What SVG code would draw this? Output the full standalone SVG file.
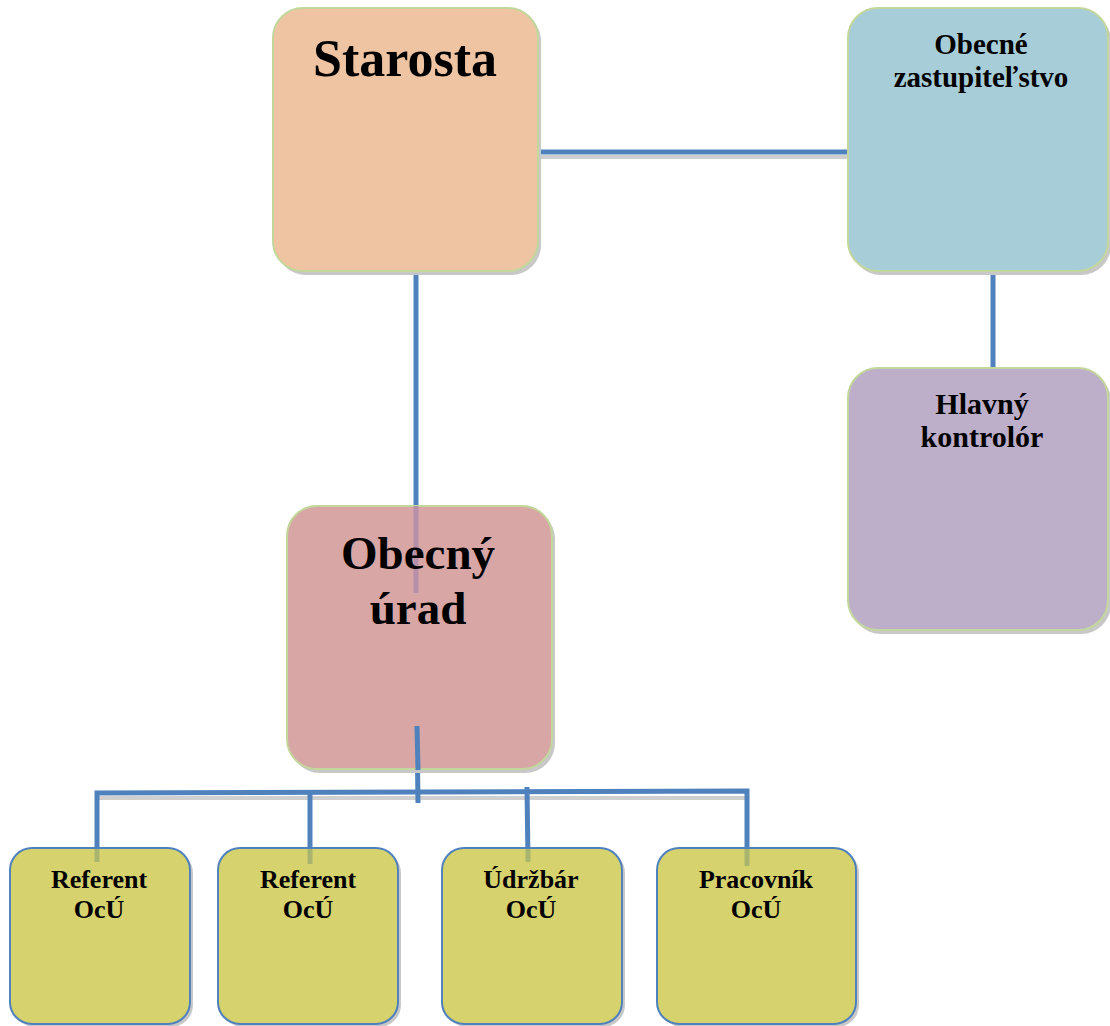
<svg xmlns="http://www.w3.org/2000/svg" width="1110" height="1026" viewBox="0 0 1110 1026">
<style>
.box{stroke-width:2}
.big{stroke:#C3D69B}
.small{stroke:#4F81BD;fill:#D6D36F}
.shadow{fill:#C8C8C8}
.t{font-family:"Liberation Serif","Times New Roman",serif;font-weight:bold;fill:#000;text-anchor:middle}
.con{stroke:#4F81BD;stroke-width:5;fill:none}
.cs{stroke:#CFCFCF;stroke-width:4;fill:none}
</style>
<rect width="1110" height="1026" fill="#fff"/>
<g id="connectors-shadow">
<line class="cs" x1="538" y1="157" x2="848" y2="157"/>
<line class="cs" x1="97" y1="798" x2="747" y2="798"/>
</g>
<g id="connectors">
<line class="con" x1="538" y1="152" x2="848" y2="152"/>
<line class="con" x1="993" y1="270" x2="993" y2="369"/>
<line class="con" x1="416" y1="270" x2="416" y2="506"/>
<line class="con" x1="417" y1="726" x2="418" y2="803"/>
<polyline class="con" points="97,862 97,793 747,791 747,866"/>
<line class="con" x1="310" y1="793" x2="310" y2="864"/>
<line class="con" x1="527" y1="787" x2="528" y2="862"/>
</g>
<g id="starosta">
<rect class="shadow" x="276" y="11" width="265" height="264" rx="30"/>
<rect class="box big" x="273" y="8" width="265" height="263" rx="30" fill="#EFC4A2"/>
<text class="t" x="405" y="76" font-size="52">Starosta</text>
</g>
<g id="zastupitelstvo">
<rect class="shadow" x="851" y="11" width="260" height="264" rx="30"/>
<rect class="box big" x="848" y="8" width="260" height="263" rx="30" fill="#A7CDD8"/>
<text class="t" x="981" y="54" font-size="29">Obecné</text>
<text class="t" x="981" y="87" font-size="29">zastupiteľstvo</text>
</g>
<g id="kontrolor">
<rect class="shadow" x="851" y="371" width="260" height="263" rx="30"/>
<rect class="box big" x="848" y="368" width="260" height="262" rx="30" fill="#BDAFC9"/>
<text class="t" x="982" y="414" font-size="30">Hlavný</text>
<text class="t" x="982" y="447" font-size="30">kontrolór</text>
</g>
<g id="obecny-urad">
<rect class="shadow" x="290" y="509" width="265" height="264" rx="30"/>
<rect class="box big" x="287" y="506" width="265" height="263" rx="30" fill="#D7A6A5"/>
<line x1="416" y1="506" x2="416" y2="593" stroke="#B690A8" stroke-width="5"/>
<line class="con" x1="417" y1="726" x2="418" y2="770"/>
<text class="t" x="418" y="569" font-size="47">Obecný</text>
<text class="t" x="418" y="624" font-size="47">úrad</text>
</g>
<g id="referent1">
<rect class="shadow" x="13" y="851" width="180" height="176" rx="22"/>
<rect class="box small" x="10" y="848" width="180" height="176" rx="22"/>
<line x1="97" y1="849" x2="97" y2="862" stroke="#A9B56E" stroke-width="5"/>
<text class="t" x="99" y="888" font-size="26">Referent</text>
<text class="t" x="99" y="918" font-size="26">OcÚ</text>
</g>
<g id="referent2">
<rect class="shadow" x="221" y="851" width="180" height="176" rx="22"/>
<rect class="box small" x="218" y="848" width="180" height="176" rx="22"/>
<line x1="310" y1="849" x2="310" y2="864" stroke="#A9B56E" stroke-width="5"/>
<text class="t" x="308" y="888" font-size="26">Referent</text>
<text class="t" x="308" y="918" font-size="26">OcÚ</text>
</g>
<g id="udrzbar">
<rect class="shadow" x="445" y="851" width="180" height="176" rx="22"/>
<rect class="box small" x="442" y="848" width="180" height="176" rx="22"/>
<line x1="528" y1="849" x2="528" y2="862" stroke="#A9B56E" stroke-width="5"/>
<text class="t" x="531" y="888" font-size="26">Údržbár</text>
<text class="t" x="531" y="918" font-size="26">OcÚ</text>
</g>
<g id="pracovnik">
<rect class="shadow" x="660" y="851" width="199" height="176" rx="22"/>
<rect class="box small" x="657" y="848" width="199" height="176" rx="22"/>
<line x1="747" y1="849" x2="747" y2="866" stroke="#A9B56E" stroke-width="5"/>
<text class="t" x="756" y="888" font-size="26">Pracovník</text>
<text class="t" x="756" y="918" font-size="26">OcÚ</text>
</g>
</svg>
